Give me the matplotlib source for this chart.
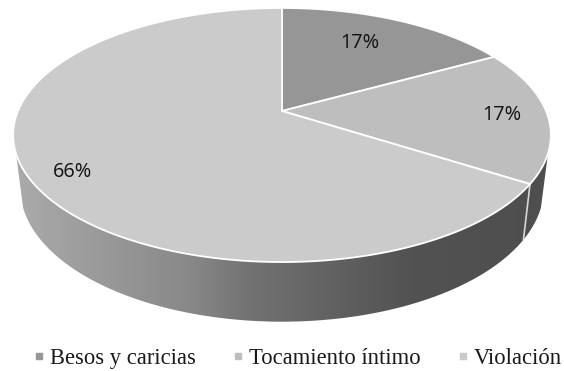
import numpy as np
import matplotlib
matplotlib.use("Agg")
import matplotlib.pyplot as plt
from matplotlib.colors import LinearSegmentedColormap
from matplotlib.lines import Line2D
from matplotlib.patches import PathPatch, Polygon
from matplotlib.path import Path

categories = ["Besos y caricias", "Tocamiento íntimo", "Violación"]
shares = [17, 17, 66]
labels = ["17%", "17%", "66%"]
colors = ["#969696", "#bebebe", "#cbcbcb"]
label_pos = [(360, 43), (502, 115), (73, 172)]


def project(theta, r=1.0, cy=111, a=264, b=122.5, k=0.189):
    # unit circle -> picture pixels, with a bit of perspective
    u = r * np.cos(theta)
    v = r * np.sin(theta)
    w = 1 + k * v
    return np.column_stack([282 + a * u / w, cy - b * v / w])


def project_low(theta):
    return project(theta, cy=163, a=257, b=128.7)


fig = plt.figure(figsize=(5.64, 3.71), dpi=100)
ax = fig.add_axes([0, 0, 1, 1])

# let pie work out the angles, then redraw the wedges tilted
wedges, _ = ax.pie(shares, startangle=90, counterclock=False)
angles = [(w.theta1, w.theta2) for w in wedges]
for w in wedges:
    w.remove()

ax.set_aspect("auto")
ax.axis("off")

# side wall
seam = min(angles[1])
arc = np.radians(np.linspace(-19, -161, 300))
wall = np.vstack([project(arc), project_low(arc[::-1])])
grad = LinearSegmentedColormap.from_list(
    "wall",
    [(0, "#ababab"), (0.33, "#888888"), (0.44, "#727272"), (0.74, "#525252"), (1, "#4e4e4e")],
)
ramp = np.linspace(0, 1, 256).reshape(1, -1)
im = ax.imshow(ramp, cmap=grad, extent=(13, 551, 340, 130), aspect="auto", zorder=1)
im.set_clip_path(PathPatch(Path(wall), transform=ax.transData))
ax.set_xlim(0, 564)
ax.set_ylim(371, 0)

seam_t = np.radians([seam])
seam_pts = np.vstack([project(seam_t), project_low(seam_t)])
ax.plot(seam_pts[:, 0], seam_pts[:, 1], color="#d8d8d8", lw=1.2, zorder=2)

# top face
for (t1, t2), col in zip(angles, colors):
    theta = np.radians(np.linspace(t1, t2, 200))
    pts = np.vstack([project(theta), project(np.array([0.0]), r=0.0)])
    ax.add_patch(Polygon(pts, closed=True, fc=col, ec="white", lw=1.3, zorder=3))

for txt, (x, y) in zip(labels, label_pos):
    ax.text(x, y, txt, ha="center", va="center", fontsize=14.3, family="Open Sans",
            color="#111111", zorder=4)

handles = [
    Line2D([], [], ls="", marker="s", ms=4.5, color=c, label=n)
    for c, n in zip(colors, categories)
]
leg = ax.legend(
    handles=handles, loc="center", bbox_to_anchor=(0.5275, 0.033), ncol=3, frameon=False,
    prop={"family": "Liberation Serif", "size": 16.3}, handletextpad=0.25,
    columnspacing=1.6, handlelength=0.5, borderpad=0,
)
for t in leg.get_texts():
    t.set_color("#1a1a1a")

fig.savefig("out.png", dpi=100)
plt.close(fig)
